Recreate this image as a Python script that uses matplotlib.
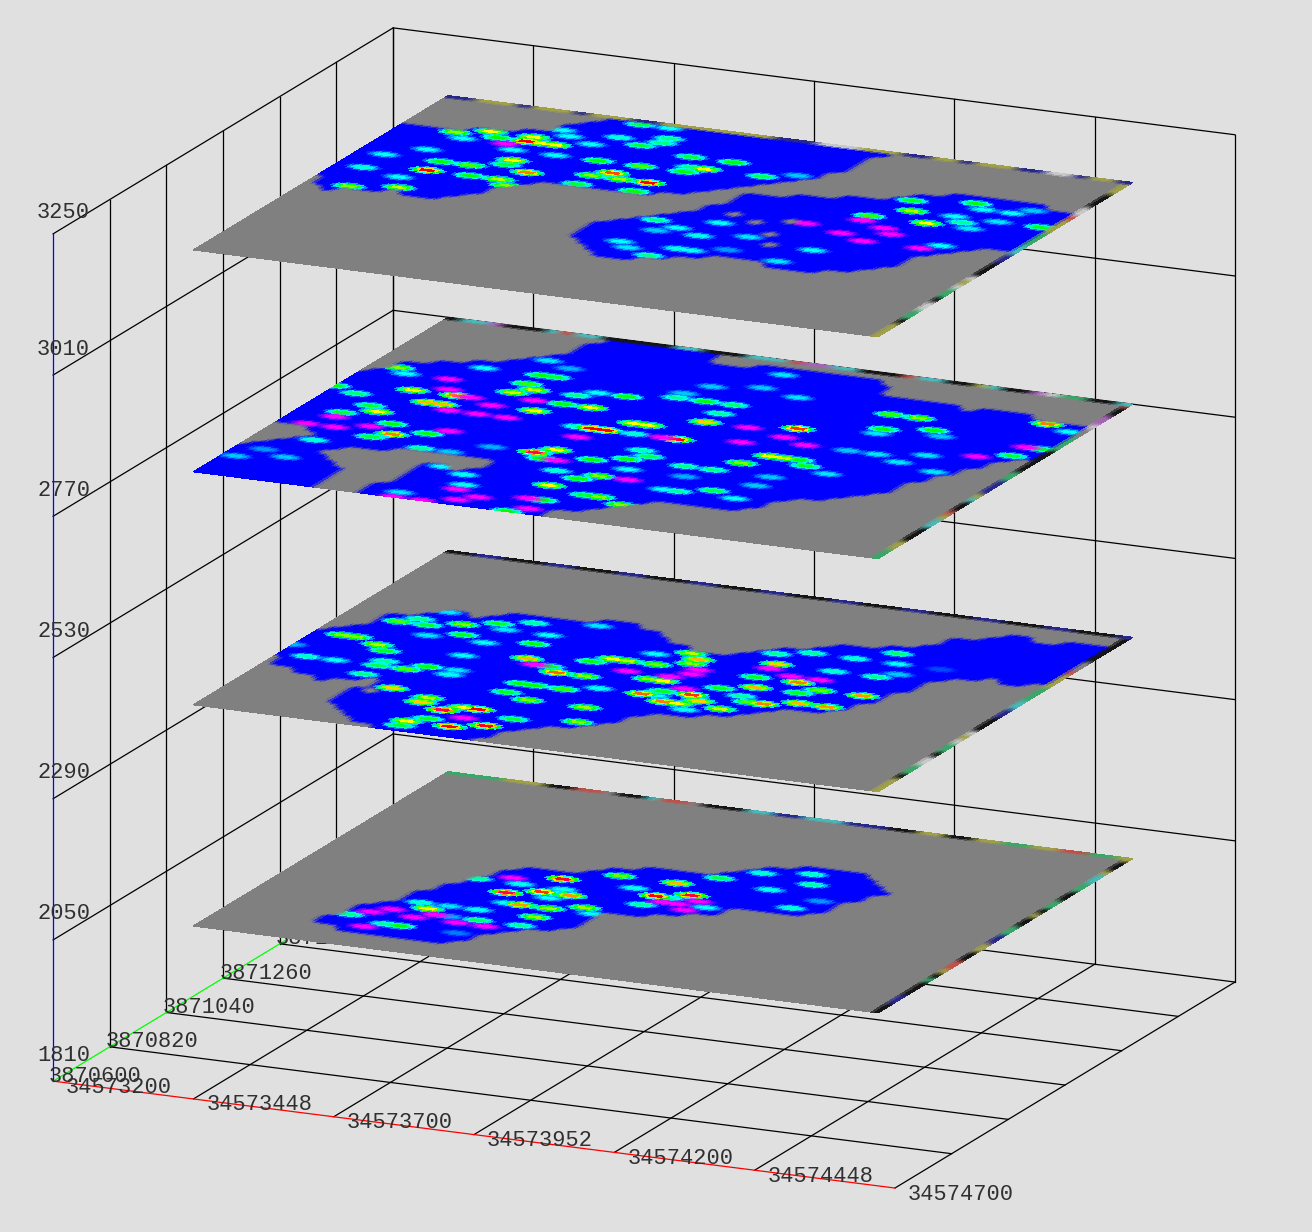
#!/usr/bin/env python3
# stacked slices of a gridded volume, fixed orthographic view
import numpy as np
import matplotlib
matplotlib.use('Agg')
from matplotlib import pyplot as plt
from matplotlib.colors import LinearSegmentedColormap, to_rgb
from mpl_toolkits.mplot3d import proj3d

# axis ticks
x_ticks = [34573200, 34573450, 34573700, 34573950, 34574200, 34574450, 34574700]
x_labels = ['34573200', '34573448', '34573700', '34573952', '34574200', '34574448', '34574700']
y_ticks = [3870600, 3870820, 3871040, 3871260, 3871480, 3871700, 3871920]
z_ticks = [1810, 2050, 2290, 2530, 2770, 3010, 3250]

# extent of the slices and their levels
slice_x = (34573372.5, 34574592.7)
slice_y = (3870767.6, 3871757.6)
slice_z = [2050, 2426, 2822, 3199]

# data footprint of every slice: first column, then lowest and highest row per column
s1_blobs = [
    (7, [4, 4, 3, 3, 3, 3, 3, 3, 3, 3, 4, 6, 7, 8, 8, 9, 13, 13, 13, 14, 14, 15, 15, 17, 17, 17, 17, 17, 18, 21, 23],
     [5, 8, 9, 12, 14, 16, 18, 19, 19, 19, 19, 20, 21, 21, 22, 22, 22, 22, 22, 23, 24, 25, 25, 26, 26, 26, 26, 26, 25, 24, 23]),
]
s1_gaps = []
s2_blobs = [
    (0, [12, 10, 10, 9, 9, 8, 9, 9, 4, 3, 2, 1, 1, 0, 0, 0, 0, 0, 0, 0, 1, 3, 4, 5, 5, 6, 7, 9, 10, 10, 10, 11, 11, 12, 13, 14, 14, 14, 15, 17, 20, 23, 24, 24, 25, 24, 24, 25],
     [17, 18, 19, 22, 22, 23, 24, 24, 23, 24, 25, 25, 25, 25, 25, 25, 26, 26, 26, 25, 25, 24, 23, 23, 22, 22, 22, 23, 24, 25, 25, 26, 27, 27, 27, 28, 28, 29, 31, 31, 32, 33, 33, 32, 32, 33, 33, 33]),
]
s2_gaps = [(8, 8, 9), (9, 7, 7)]
s3_blobs = [
    (0, [0] * 25 + [2, 2, 3, 4, 5, 6, 6, 6, 6, 6, 6, 7, 9, 10, 10, 11, 12, 13, 16, 18, 20, 22, 23],
     [23, 24, 26, 26, 27, 27, 28, 28, 29, 30, 31, 34, 35, 35, 35, 35, 35, 35, 35, 35, 33, 33, 33, 34, 34, 34, 34, 34, 34, 34, 34, 34, 33, 31, 31, 31, 31, 31, 31, 30, 31, 31, 31, 31, 30, 30, 30, 30]),
]
s3_gaps = [(0, 7, 11), (1, 8, 11), (2, 9, 11), (3, 10, 10), (6, 7, 7), (7, 6, 8), (8, 5, 8), (9, 0, 8), (10, 0, 9),
           (11, 0, 9), (12, 3, 9), (13, 8, 9), (14, 8, 9), (15, 7, 9), (16, 8, 9)]
s4_blobs = [
    (0, [18, 16, 15, 16, 16, 16, 17, 16, 16, 16, 17, 18, 20, 21, 22, 22, 22, 22, 22, 22, 22, 22, 23, 23, 24, 25, 26, 27, 28, 29, 31, 35],
     [29, 29, 29, 29, 29, 30, 30, 30, 31, 31, 33, 34] + [35] * 20),
    (21, [12, 11, 10, 9, 9, 9, 10, 10, 11, 11, 12, 12, 12, 12, 11, 11, 11, 11, 12, 12, 13, 14, 17, 18, 19, 20, 20],
     [15, 16, 17, 18, 19, 21, 24, 24, 24, 25, 25, 25, 26, 26, 26, 27, 28, 28, 29, 29, 29, 29, 29, 29, 29, 28, 28]),
]
s4_gaps = [(28, 20, 20), (30, 19, 19), (32, 20, 20), (32, 17, 17), (33, 15, 15)]

# readings inside the footprint as (column, row, level): 0 blue, 1 cyan, 2 green, 3 yellow, 4 red, 5 magenta
s1_hot = [(8, 6, 1.5), (9, 7, 5), (10, 4, 4.8), (10, 8, 4.7), (11, 10, 1.2), (12, 9, 3), (13, 8, 5), (12, 7, 4.7),
          (12, 5, 2), (11, 5, 1.4), (13, 10, .9), (14, 8, .7), (15, 10, 1.1), (15, 7, 4.8), (17, 7, 4.8), (16, 5, .5),
          (16, 8, 1.6), (12, 16, 1.4), (14, 17, 4.8), (17, 18, 4.2), (15, 16, 1.1), (17, 15, 3.8), (15, 14, 4.4),
          (18, 16, 1.1), (19, 15, 3.4), (18, 14, 1), (17, 12, 3.4), (16, 12, 1), (19, 12, 2.6), (21, 13, 2.6),
          (19, 10, 2.5), (22, 12, 1), (19, 8, 1.4), (20, 20, 2.4), (22, 18, 1.1), (24, 17, 4), (25, 17, 1.3),
          (24, 15, 1.4), (25, 16, 5), (24, 20, 3.3), (26, 18, 4.2), (26, 16, 5), (27, 17, 4.8), (27, 15, 4.6),
          (26, 22, 1.7), (28, 24, 1.2), (31, 25, 1.3), (32, 23, 1.4), (30, 21, 1.1), (28, 16, 1), (33, 18, 1.2),
          (34, 20, .6)]
s2_hot = [(3, 17, 2.5), (2, 17, 2.5), (4, 21, 2.3), (5, 22, 1.5), (6, 24, .9), (8, 22, 2.5), (6, 21, 1.8), (10, 23, 1.9),
          (12, 24, 1.4), (16, 25, .9), (7, 19, .9), (9, 20, 1.9), (11, 22, .9), (14, 22, 1), (5, 16, 2.7), (6, 15, 1.9),
          (11, 19, 1), (14, 20, 2), (2, 12, 1.3), (4, 12, 1), (7, 13, 1.4), (11, 16, 1), (15, 17, 3.3), (16, 16, 4.6),
          (17, 16, 1.9), (7, 12, 1.7), (9, 12, 2.3), (10, 13, 2), (12, 12, 1.1), (12, 13, .9), (7, 10, 1.5), (10, 8, 3.2),
          (13, 7, 2.7), (13, 6, 3.2), (16, 6, 3), (15, 5, 4.3), (17, 6, 4), (17, 4, 4.8), (15, 3, 1.9), (14, 2, 3),
          (14, 1, 1.8), (17, 2, 4), (19, 3, 4.1), (20, 5, 1.8), (24, 6, 2.5), (23, 9, 2.6), (19, 9, 2.5), (17, 10, 1.9),
          (17, 12, 2), (18, 12, 2), (20, 12, 2.2), (20, 15, 2.5), (18, 15, 3.6), (22, 13, 1.1), (20, 19, 3), (19, 18, 2),
          (21, 19, 2.7), (22, 17, 5), (24, 16, 2.5), (25, 17, 5), (23, 19, 2.4), (22, 21, 1), (25, 16, 3), (25, 13, 3.6),
          (26, 13, 1), (27, 12, 3.5), (26, 14, 1.9), (26, 18, 5), (27, 15, 5), (25, 21, 3.3), (24, 22, 2.7), (26, 19, 4.7),
          (25, 20, 2.5), (28, 14, 3.8), (29, 13, 3.2), (28, 12, 3), (31, 12, 2.8), (29, 11, 1.1), (29, 16, 1.9),
          (31, 15, 1.4), (32, 14, 2.3), (33, 14, 3.5), (31, 17, 3.3), (30, 22, 3.2), (30, 21, 4.7), (32, 20, 4.6),
          (30, 19, 1.9), (33, 19, 3.5), (34, 20, 4.6), (34, 17, 1.9), (35, 18, 2.4), (35, 15, 3.3), (37, 15, 3.4),
          (38, 18, 3.4), (31, 25, 1.4), (29, 24, 1.4), (34, 25, 1.2), (36, 27, 1.6), (37, 25, 1), (37, 22, 1.5),
          (34, 22, 1.2), (38, 23, .8), (40, 25, .3), (0, 14, .7)]
s3_hot = [(2, 25, 2.5), (3, 24, 1), (6, 24, 5), (0, 20, 2), (2, 19, 1.6), (5, 21, 3), (7, 22, 5), (8, 21, 3.5), (9, 21, 5),
          (8, 19, 3.3), (7, 19, 3.3), (9, 18, 5), (11, 20, 4.8), (11, 18, 4.5), (5, 16, 3), (4, 17, 1.8), (3, 15, 1.8),
          (3, 14, 4.8), (2, 12, 5), (4, 12, 5), (6, 13, 5), (7, 14, 2), (8, 12, 3.5), (10, 13, 2), (11, 14, 4.5),
          (7, 11, 1.8), (4, 9, 1.2), (11, 10, 1.4), (1, 4, .8), (4, 5, .8), (2, 6, .6), (15, 12, .7), (13, 10, .8),
          (7, 27, 1), (10, 30, .9), (12, 29, .7), (11, 25, 2.2), (11, 27, 2), (12, 27, 1.8), (12, 24, 2.8), (11, 23, 2.8),
          (15, 24, 1.5), (16, 25, 1), (18, 25, 2), (13, 22, 4.8), (15, 22, 2), (14, 20, 3), (17, 22, 3), (13, 18, 5),
          (18, 18, 1.3), (19, 18, 4), (21, 20, 3), (22, 20, 3), (20, 18, 4), (19, 16, 5), (22, 18, 1.2), (24, 18, 5),
          (24, 15, 1.3), (19, 13, 3), (18, 12, 4.4), (20, 11, 5), (19, 11, 2), (22, 12, 2), (24, 13, 2), (25, 14, 1.7),
          (21, 9, 1.2), (23, 8, 2), (24, 9, 2.5), (22, 6, 3), (26, 9, 4.5), (25, 11, 1), (29, 8, 1), (26, 5, 2.5),
          (25, 5, 1.8), (23, 3, 2), (28, 4, 2.5), (22, 3, 4.6), (23, 1, 4.8), (22, 0, 2), (17, 4, 1.1), (16, 6, 1.1),
          (14, 7, 1), (14, 1, .9), (17, 3, 4.6), (19, 2, 5), (18, 1, 5), (14, 0, 4.5), (16, 0, 5),
          (21, 26, 1.4), (23, 26, 2), (25, 26, 1.6), (25, 24, 1.4), (25, 22, 3.2), (28, 22, 5), (31, 23, 3.8), (31, 21, 5),
          (25, 18, 4), (29, 19, 4.5), (33, 20, 5), (33, 17, 2.8), (34, 17, 2), (32, 17, 3), (31, 15, 2.5), (30, 13, 1.5),
          (28, 13, 1.5), (35, 16, 1.9), (32, 9, 1.7), (30, 8, 1.4), (34, 8, 1), (37, 15, .9), (34, 13, .8), (34, 11, .8),
          (29, 11, .7), (35, 28, 2.2), (37, 28, 2.5), (36, 25, 2), (36, 24, .9), (39, 26, 2), (40, 25, .8), (28, 29, .9),
          (25, 30, .8), (25, 33, .9), (22, 29, .8), (21, 27, .8), (44, 22, 5), (46, 23, 1.8), (46, 25, 4.6), (47, 25, 1.8),
          (45, 30, 3.5), (41, 21, .9), (43, 18, .9), (47, 29, 1), (40, 19, .9), (38, 20, .9), (36, 20, .8)]
s4_hot = [(4, 29, 2.5), (6, 30, 3), (5, 28, 1), (7, 29, 2), (8, 28, 5), (9, 29, 4), (9, 30, 3), (10, 29, 3), (11, 29, 3),
          (10, 32, 1), (11, 31, 1), (14, 32, 1.2), (13, 30, 1), (14, 35, 1.7), (16, 35, 1), (16, 31, 1.8), (17, 32, 1.5),
          (9, 27, 1), (10, 25, 3), (12, 27, 1), (4, 25, 1), (2, 23, 1), (2, 20, 1.2), (6, 23, 2), (8, 23, 2.3), (10, 24, 1.8),
          (6, 21, 4), (5, 19, 1), (9, 21, 2), (12, 23, 3.5), (11, 21, 2.7), (12, 20, 2.5), (3, 16, 2.5), (6, 17, 2.7),
          (15, 27, 2), (18, 27, 2.3), (17, 25, 3.7), (18, 24, 2.6), (16, 24, 2.5), (20, 24, 4), (20, 22, 2), (16, 22, 1.8),
          (17, 33, 1.5), (20, 30, 1.8), (23, 30, 2), (21, 28, 1.5), (22, 28, 3), (21, 27, 2), (26, 28, 1.7), (28, 29, .8),
          (36, 23, 2.2), (37, 27, 1.9), (38, 25, 2.7), (41, 28, 2), (40, 23, 3), (41, 25, 1), (42, 24, 1.4), (42, 27, 1),
          (44, 27, 1), (44, 25, .9), (43, 23, .9), (47, 25, 1.9), (45, 28, .8), (33, 20, 5), (36, 22, 4.8), (38, 21, 5),
          (36, 19, 5), (38, 18, 5), (39, 20, 5), (42, 18, 4.8), (43, 19, 1), (36, 15, 1), (35, 12, .9), (26, 16, 1),
          (28, 18, 1), (28, 15, 1.1), (31, 16, .9), (28, 12, 1.1), (29, 12, 1), (31, 13, .6), (25, 11, .9), (24, 17, 1.5),
          (24, 12, 1), (25, 15, .8), (27, 10, 1.5)]

# thin speckled rims of the slices, one letter per cell (see rim_colors)
s1_right = 'kkbbkkkgkyrrkkyybbggkkykggkkggccykky'
s1_back = 'ggggyyykkrr.kkcrr.kkkccbbcccbbbkkyykkyyggyyrrggy'
s2_right = 'yyykggwwkggwywkkkbbccgggyyyr..kkkkkk'
s2_back = 'kkbbkkkbbkkkbbkkkbbkkkbbkkkbbkkkbbkkkbbkkkbbkkkb'
s3_right = 'ggyykkkccyrkkcybbbggkkkkkggg..wppkkr'
s3_back = 'kccpkkkcrcckkkkkcckkkcccrppcckkkrcckkyckkpwggkkc'
s4_right = 'yyykggwwkggwywkkkbbccgggyyyrwwkkkyyy'
s4_back = 'bbyyybyyybyyybbyyyyyyyybbbwwwyyybbyybyyybbwwbyyb'

bg = '#e0e0e0'
no_data = '#808080'
rim_colors = {'k': '#151515', 'y': '#a0a048', 'g': '#38a868', 'c': '#48b8b8', 'b': '#28288c',
              'r': '#c05048', 'w': '#c8c8c8', 'p': '#a860b8', '.': no_data}
levels = LinearSegmentedColormap.from_list('levels', ['#0000ff', '#00ffff', '#00ff00', '#ffff00', '#ff0000', '#ff00ff'])

ROWS, COLS, SMOOTH = 36, 48, 4
# half size of a reading on the slice, in columns and rows
SPOT_W, SPOT_H = 1.3, 0.75


def rim(letters, n):
    rgb = np.array([to_rgb(rim_colors[c]) for c in letters])
    pos = (np.arange(n) + .5) / n * len(letters) - .5
    return np.array([np.interp(pos, np.arange(len(letters)), rgb[:, k]) for k in range(3)]).T


def slice_colors(blobs, gaps, hot, right, back):
    mask = np.zeros((ROWS, COLS))
    for first, lo, hi in blobs:
        for i in range(len(lo)):
            mask[lo[i]:hi[i] + 1, first + i] = 1
    for col, lo, hi in gaps:
        mask[lo:hi + 1, col] = 0

    nr, nc = ROWS * SMOOTH, COLS * SMOOTH
    rr = (np.arange(nr) + .5) / SMOOTH
    cc = (np.arange(nc) + .5) / SMOOTH
    # soft footprint edge, for the display only
    tmp = np.array([np.interp(cc, np.arange(COLS), g) for g in mask])
    m = np.array([np.interp(rr, np.arange(ROWS), tmp[:, j]) for j in range(nc)]).T
    m = np.clip((m - .3) / .5, 0, 1)[..., None]

    C, R = np.meshgrid(cc, rr)
    ramp = np.zeros((nr, nc))
    pink = np.zeros((nr, nc))
    for col, row, val in hot:
        d = np.hypot((C - col) / SPOT_W, (R - row) / SPOT_H)
        k = np.clip(1.6 * (1 - d), 0, 1)
        if val >= 4.5:
            pink = np.maximum(pink, k)
        else:
            ramp = np.maximum(ramp, k * val)
    rgb = levels(ramp / 5)[..., :3]
    rgb = rgb * (1 - pink[..., None]) + np.array(to_rgb('#ff00ff')) * pink[..., None]
    rgb = m * rgb + (1 - m) * np.array(to_rgb(no_data))

    rgb[:, -1] = rim(right, nr)
    rgb[:, -2] = .35 * rgb[:, -2] + .65 * rim(right, nr)
    rgb[-2:, :] = rim(back, nc)
    rgb[-3, :] = .5 * rgb[-3, :] + .5 * rim(back, nc)
    return rgb


fig = plt.figure(figsize=(13.12, 12.32), dpi=100, facecolor=bg)
ax = fig.add_axes([-28.6 / 1312, -8.6 / 1232, 1, 1], projection='3d', computed_zorder=False)
ax.set_proj_type('ortho')
ax.view_init(elev=16.1, azim=-65.4)
ax.set_box_aspect((926, 817, 882), zoom=1.1956)
ax.set_axis_off()
ax.patch.set_visible(False)

xmin, xmax = x_ticks[0], x_ticks[-1]
ymin, ymax = y_ticks[0], y_ticks[-1]
zmin, zmax = z_ticks[0], z_ticks[-1]

# wire box, floor and two back walls only
line = dict(color='k', lw=0.9, zorder=2)
for x in x_ticks[1:]:
    ax.plot([x, x], [ymin, ymax], [zmin, zmin], **line)
for x in x_ticks:
    ax.plot([x, x], [ymax, ymax], [zmin, zmax], **line)
for y in y_ticks[1:]:
    ax.plot([xmin, xmax], [y, y], [zmin, zmin], **line)
    ax.plot([xmin, xmin], [y, y], [zmin, zmax], **line)
for z in z_ticks[1:]:
    ax.plot([xmin, xmin], [ymin, ymax], [z, z], **line)
    ax.plot([xmin, xmax], [ymax, ymax], [z, z], **line)
ax.plot([xmin, xmax], [ymin, ymin], [zmin, zmin], color='#ff0000', lw=0.9, zorder=3)
ax.plot([xmin, xmin], [ymin, ymax], [zmin, zmin], color='#00ff00', lw=0.9, zorder=3)
ax.plot([xmin, xmin], [ymin, ymin], [zmin, zmax], color='#0000ff', lw=0.9, zorder=3)

# the slices
xs = np.linspace(slice_x[0], slice_x[1], COLS * SMOOTH + 1)
ys = np.linspace(slice_y[0], slice_y[1], ROWS * SMOOTH + 1)
X, Y = np.meshgrid(xs, ys)
parts = [(s1_blobs, s1_gaps, s1_hot, s1_right, s1_back),
         (s2_blobs, s2_gaps, s2_hot, s2_right, s2_back),
         (s3_blobs, s3_gaps, s3_hot, s3_right, s3_back),
         (s4_blobs, s4_gaps, s4_hot, s4_right, s4_back)]
for i, z in enumerate(slice_z):
    ax.plot_surface(X, Y, np.full(X.shape, float(z)), facecolors=slice_colors(*parts[i]), rstride=1, cstride=1,
                    shade=False, linewidth=0, antialiased=False, zorder=10 + i)

ax.set_xlim(xmin, xmax)
ax.set_ylim(ymin, ymax)
ax.set_zlim(zmin, zmax)

# tick labels sit in screen space next to the projected tick
M = ax.get_proj()
font = dict(family='Liberation Mono', fontsize=15.8, color='#303030', ha='left', va='center',
            textcoords='offset pixels', annotation_clip=False, zorder=5)


def tick_label(text, x, y, z, dx, dy):
    px, py, _ = proj3d.proj_transform(x, y, z, M)
    ax.annotate(text, (px, py), xytext=(dx, dy), **font)


for x, lab in zip(x_ticks, x_labels):
    tick_label(lab, x, ymin, zmin, 13, -6)
for y in y_ticks:
    tick_label(str(y), xmin, y, zmin, -4, 5)
for z in z_ticks:
    tick_label(str(z), xmin, ymin, z, -16, 21 if z == zmax else 26)

fig.savefig('out.png', dpi=100, facecolor=bg)
